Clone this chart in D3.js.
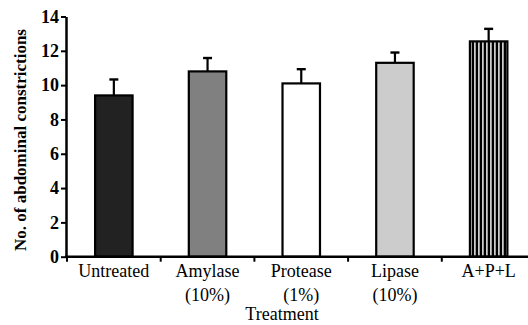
<!DOCTYPE html>
<html>
<head>
<meta charset="utf-8">
<script src="https://cdn.jsdelivr.net/npm/d3@7"></script>
<style>
  body { margin: 0; background: #fff; }
  svg { display: block; font-family: "Liberation Serif", "Times New Roman", serif; }
</style>
</head>
<body>
<div id="chart"></div>
<script>
// values
var categories = ["Untreated", "Amylase", "Protease", "Lipase", "A+P+L"];
var subLabels = ["", "(10%)", "(1%)", "(10%)", ""];
var means = [9.4, 10.8, 10.1, 11.3, 12.55];
var errors = [0.93, 0.78, 0.83, 0.6, 0.73];
var fills = ["#222222", "#808080", "#ffffff", "#cccccc", "url(#stripes)"];
var yTicks = [0, 2, 4, 6, 8, 10, 12, 14];

var width = 528, height = 325;

var svg = d3.select("#chart").append("svg")
    .attr("width", width)
    .attr("height", height);

var defs = svg.append("defs");
var pat = defs.append("pattern")
    .attr("id", "stripes")
    .attr("patternUnits", "userSpaceOnUse")
    .attr("width", 4)
    .attr("height", 10);
pat.append("rect").attr("width", 4).attr("height", 10).attr("fill", "#000");
pat.append("rect").attr("x", 2.2).attr("width", 1.4).attr("height", 10).attr("fill", "#fff");

var x = d3.scaleBand()
    .domain(categories)
    .range([67, 67 + 5 * 93.7]);

var y = d3.scaleLinear()
    .domain([0, 14])
    .range([256.7, 16.5]);

var barW = x.bandwidth() * 0.4;

// error bars (upper only)
var err = svg.selectAll(".err")
    .data(categories)
    .enter().append("g")
    .attr("class", "err");

err.append("line")
    .attr("x1", function(d) { return x(d) + x.bandwidth() / 2; })
    .attr("x2", function(d) { return x(d) + x.bandwidth() / 2; })
    .attr("y1", function(d, i) { return y(means[i]); })
    .attr("y2", function(d, i) { return y(means[i] + errors[i]); })
    .attr("stroke", "#000")
    .attr("stroke-width", 2.2);

err.append("line")
    .attr("x1", function(d) { return x(d) + x.bandwidth() / 2 - 4.5; })
    .attr("x2", function(d) { return x(d) + x.bandwidth() / 2 + 4.5; })
    .attr("y1", function(d, i) { return y(means[i] + errors[i]); })
    .attr("y2", function(d, i) { return y(means[i] + errors[i]); })
    .attr("stroke", "#000")
    .attr("stroke-width", 2.4);

// bars
svg.selectAll(".bar")
    .data(categories)
    .enter().append("rect")
    .attr("class", "bar")
    .attr("x", function(d) { return x(d) + (x.bandwidth() - barW) / 2; })
    .attr("y", function(d, i) { return y(means[i]); })
    .attr("width", barW)
    .attr("height", function(d, i) { return y(0) - y(means[i]); })
    .attr("fill", function(d, i) { return fills[i]; })
    .attr("stroke", "#000")
    .attr("stroke-width", 2.2);

// y axis
var yAxis = svg.append("g")
    .attr("transform", "translate(66,0)")
    .call(d3.axisLeft(y).tickValues(yTicks).tickSize(5).tickSizeOuter(0).tickPadding(2));
yAxis.select(".domain").attr("stroke-width", 2.5);
yAxis.selectAll(".tick line").attr("stroke-width", 2);
yAxis.selectAll(".tick text")
    .attr("font-family", "Liberation Serif, serif")
    .attr("font-size", 18)
    .attr("font-weight", "bold")
    .attr("fill", "#000");

// x axis line and boundary ticks
svg.append("line")
    .attr("x1", 65).attr("x2", width)
    .attr("y1", y(0)).attr("y2", y(0))
    .attr("stroke", "#000").attr("stroke-width", 2.5);

svg.selectAll(".xtick")
    .data(categories)
    .enter().append("line")
    .attr("class", "xtick")
    .attr("x1", function(d) { return x(d); })
    .attr("x2", function(d) { return x(d); })
    .attr("y1", y(0))
    .attr("y2", y(0) + 5)
    .attr("stroke", "#000").attr("stroke-width", 2);

// category labels
svg.selectAll(".cat")
    .data(categories)
    .enter().append("text")
    .attr("class", "cat")
    .attr("x", function(d) { return x(d) + x.bandwidth() / 2; })
    .attr("y", 277)
    .attr("text-anchor", "middle")
    .attr("font-size", 18)
    .text(function(d) { return d; });

svg.selectAll(".sub")
    .data(categories)
    .enter().append("text")
    .attr("class", "sub")
    .attr("x", function(d) { return x(d) + x.bandwidth() / 2; })
    .attr("y", 301)
    .attr("text-anchor", "middle")
    .attr("font-size", 18)
    .text(function(d, i) { return subLabels[i]; });

// axis titles
svg.append("text")
    .attr("x", 282)
    .attr("y", 320)
    .attr("text-anchor", "middle")
    .attr("font-size", 18)
    .text("Treatment");

svg.append("text")
    .attr("transform", "translate(26,140) rotate(-90)")
    .attr("text-anchor", "middle")
    .attr("font-size", 17)
    .attr("font-weight", "bold")
    .text("No. of abdominal constrictions");
</script>
</body>
</html>
